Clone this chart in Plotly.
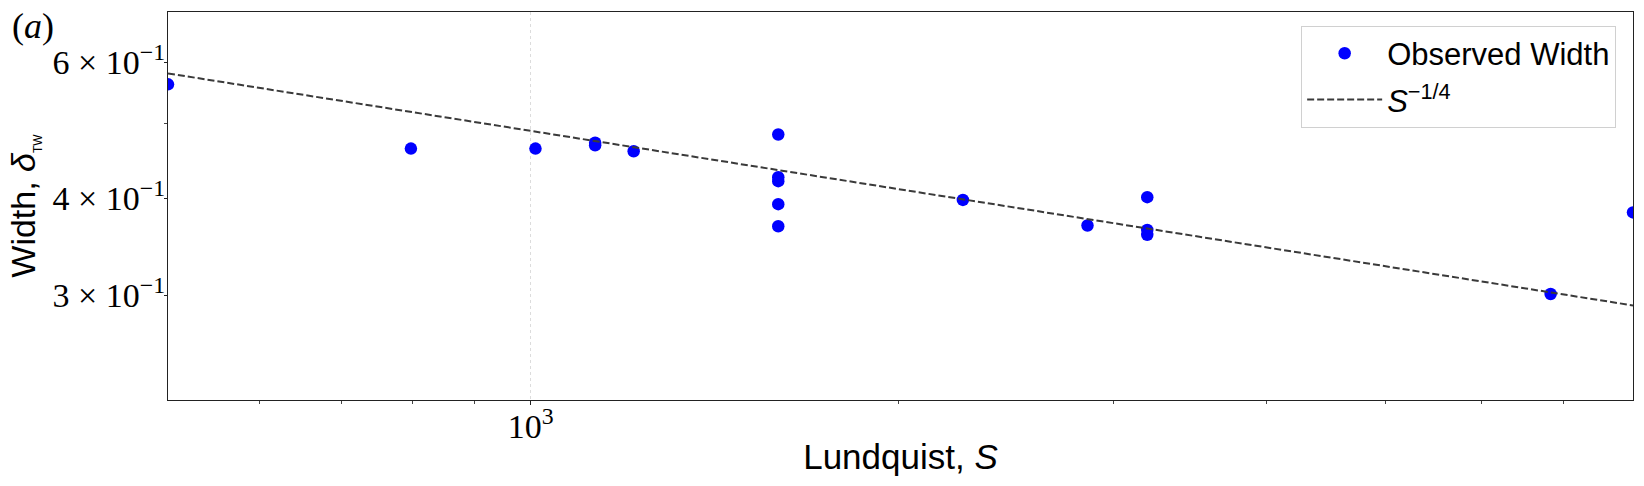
import math
import plotly.graph_objects as go

# ---- data ----
lundquist = [505, 798, 1009, 1129, 1129, 1214, 1594, 1594, 1594, 1594, 1594,
             2257, 2854, 3194, 3194, 3194, 6828, 7974]
width = [0.5616, 0.4639, 0.4639, 0.4720, 0.4685, 0.4603, 0.4837, 0.4261, 0.4211,
         0.3933, 0.3683, 0.3983, 0.3691, 0.4015, 0.3643, 0.3590, 0.3011, 0.3837]

fit_coef = 2.75
fit_exp = -0.25

y_tick_vals = [0.3, 0.4, 0.6]
y_tick_text = ["3 × 10<sup>−1</sup>", "4 × 10<sup>−1</sup>", "6 × 10<sup>−1</sup>"]
y_minor_vals = [0.5]
x_tick_vals = [1000]
x_tick_text = ["10<sup>3</sup>"]
x_minor_vals = [600, 700, 800, 900, 2000, 3000, 4000, 5000, 6000, 7000]

y_range = [0.2197, 0.6963]

# ---- figure ----
s_line = [min(lundquist), max(lundquist)]
w_line = [fit_coef * s ** fit_exp for s in s_line]

serif = "Liberation Serif"
sans = "Liberation Sans"

fig = go.Figure()
fig.add_trace(go.Scatter(
    x=lundquist, y=width, mode="markers", name="Observed Width",
    marker=dict(color="#0000ff", size=12.5, line=dict(width=0)),
    legendgroup="a",
))
fig.add_trace(go.Scatter(
    x=s_line, y=w_line, mode="lines", name="<i>S</i><sup>−1/4</sup>",
    line=dict(color="#3a3a3a", width=2, dash="7px,3px"),
    legendgroup="b",
))

axis_common = dict(
    showline=True, mirror=True, linecolor="#222", linewidth=1.2,
    ticks="outside", tickcolor="#222", tickwidth=1,
    tickfont=dict(family=serif, size=34, color="black"),
    zeroline=False,
)

fig.update_xaxes(
    type="log",
    range=[math.log10(min(lundquist)), math.log10(max(lundquist))],
    tickmode="array", tickvals=x_tick_vals, ticktext=x_tick_text,
    ticklen=4, ticklabelstandoff=-8,
    showgrid=True, gridcolor="#dcdcdc", griddash="dot", gridwidth=1,
    minor=dict(tickmode="array", tickvals=x_minor_vals, ticks="outside",
               ticklen=3, tickcolor="#444", showgrid=False),
    title=dict(text="Lundquist, <i>S</i>",
               font=dict(family=sans, size=35, color="black"), standoff=0),
    **axis_common,
)
fig.update_yaxes(
    type="log",
    range=[math.log10(y_range[0]), math.log10(y_range[1])],
    tickmode="array", tickvals=y_tick_vals, ticktext=y_tick_text,
    ticklen=3, ticklabelstandoff=-8, showgrid=False,
    minor=dict(tickmode="array", tickvals=y_minor_vals, ticks="outside",
               ticklen=3, tickcolor="#444", showgrid=False),
    title=dict(text="Width, <i>δ</i><sub><span style='font-size:12px'>TW</span></sub>",
               font=dict(family=sans, size=34, color="black"), standoff=6),
    **axis_common,
)

fig.update_layout(
    width=1644, height=486,
    margin=dict(l=168, r=11, t=12, b=86, autoexpand=False),
    plot_bgcolor="white", paper_bgcolor="white",
    legend=dict(
        x=0.9885, y=0.965, xanchor="right", yanchor="top",
        bgcolor="white", bordercolor="#d0d0d0", borderwidth=1,
        font=dict(family=sans, size=31, color="black"),
        itemwidth=75, tracegroupgap=3, traceorder="grouped",
    ),
    annotations=[dict(
        text="(<i>a</i>)", xref="paper", yref="paper", x=-0.108, y=1.02,
        xanchor="left", yanchor="top", showarrow=False,
        font=dict(family=serif, size=36, color="black"),
    )],
)

fig.write_html("out.html", config={"displayModeBar": False},
               post_script="document.body.style.margin='0px';")
